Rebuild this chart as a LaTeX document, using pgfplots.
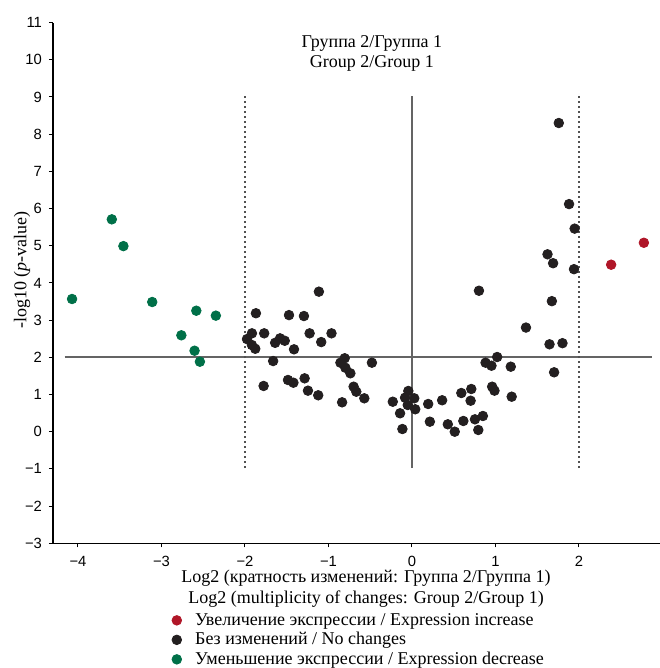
\documentclass[border=0pt]{standalone}
\usepackage{fontspec}
\setmainfont{Liberation Serif}
\newfontfamily\arial{Liberation Sans}
\usepackage{pgfplots}
\pgfplotsset{compat=1.18}
\definecolor{ptblack}{RGB}{35,31,32}
\definecolor{ptgreen}{RGB}{0,112,72}
\definecolor{ptred}{RGB}{176,22,40}
\definecolor{refline}{RGB}{100,100,100}
\newcommand{\txtfont}{\fontsize{9bp}{10bp}\selectfont}

\begin{document}
\begin{tikzpicture}
\begin{axis}[
  x=41.75bp, y=18.595bp,
  xmin=-4.3, xmax=2.97, ymin=-3, ymax=11,
  axis x line*=bottom, axis y line*=left,
  axis line style={black, line width=0.75bp, -},
  xtick={-4,...,2}, ytick={-3,...,11},
  xticklabels={−4,−3,−2,−1,0,1,2},
  yticklabels={−3,−2,−1,0,1,2,3,4,5,6,7,8,9,10,11},
  tick align=outside, major tick length=2bp,
  tick style={black, line width=0.5bp},
  ticklabel style={font=\arial\fontsize{7.4bp}{8bp}\selectfont},
  xticklabel style={yshift=-1bp},
  clip=false,
  legend style={at={(axis cs:-2.886,-4.80)}, anchor=north west,
    draw=none, fill=none, inner sep=0pt, row sep=0pt,
    font=\txtfont,
    nodes={inner sep=1bp, text height=6.2bp, text depth=1.55bp}},
  legend cell align=left,
  legend image code/.code={\draw[#1] plot coordinates {(0bp,0bp)}; \path (-2.5bp,0bp) (8bp,0bp);},
]
% reference lines
\addplot[refline, line width=1bp, forget plot] coordinates {(-4.16,2) (2.87,2)};
\addplot[refline, line width=1bp, forget plot] coordinates {(0,-0.98) (0,9.03)};
\addplot[refline!80!black, line width=0.9bp, dash pattern=on 1bp off 1.5bp, forget plot]
  coordinates {(-2,-0.98) (-2,9.03)};
\addplot[refline!80!black, line width=0.9bp, dash pattern=on 1bp off 1.5bp, forget plot]
  coordinates {(2,-0.98) (2,9.03)};

% expression increase
\addplot[only marks, mark=*, mark size=2.4bp, color=ptred]
  coordinates {(2.385,4.49) (2.777,5.08)};
\addlegendentry{Увеличение экспрессии / Expression increase}

% no changes
\addplot[only marks, mark=*, mark size=2.4bp, color=ptblack]
  coordinates {
  (-1.115,3.765) (-1.869,3.185) (-1.473,3.135) (-1.294,3.11) (-1.917,2.645)
  (-1.770,2.645) (-1.226,2.645) (-0.964,2.645) (-1.976,2.49) (-1.580,2.51)
  (-1.524,2.445) (-1.639,2.39) (-1.917,2.33) (-1.877,2.23) (-1.413,2.215)
  (-1.087,2.41) (-1.663,1.90) (-0.806,1.975) (-0.857,1.855) (-0.798,1.72)
  (-0.738,1.57) (-0.480,1.855) (-1.777,1.23) (-1.485,1.39) (-1.420,1.317)
  (-1.286,1.435) (-1.246,1.103) (-1.123,0.979) (-0.699,1.21) (-0.667,1.075)
  (-0.571,0.898) (-0.837,0.79) (-0.230,0.806) (-0.044,1.095) (-0.083,0.914)
  (0.027,0.898) (-0.051,0.718) (0.039,0.603) (-0.143,0.495) (-0.115,0.072)
  (0.194,0.745) (0.214,0.269) (1.758,8.30) (1.881,6.12) (1.948,5.46)
  (1.623,4.77) (1.690,4.53) (1.940,4.37) (0.802,3.79) (1.675,3.51)
  (1.365,2.80) (1.647,2.35) (1.802,2.38) (1.02,2.008) (0.881,1.855)
  (0.952,1.774) (1.183,1.748) (1.702,1.597) (0.96,1.21) (0.988,1.103)
  (0.710,1.148) (0.591,1.04) (1.194,0.941) (0.702,0.833) (0.361,0.845)
  (0.429,0.199) (0.512,0.0) (0.615,0.288) (0.754,0.333) (0.849,0.422)
  (0.794,0.046)};
\addlegendentry{Без изменений / No changes}

% expression decrease
\addplot[only marks, mark=*, mark size=2.4bp, color=ptgreen]
  coordinates {(-3.595,5.71) (-3.456,4.99) (-4.071,3.568) (-3.111,3.487)
  (-2.583,3.253) (-2.349,3.12) (-2.762,2.592) (-2.604,2.177) (-2.540,1.882)};
\addlegendentry{Уменьшение экспрессии / Expression decrease}

\node[align=center, font=\txtfont] at (axis cs:-0.48,10.18)
  {Группа 2/Группа 1\\Group 2/Group 1};
\node[rotate=90, font=\txtfont] at (axis cs:-4.671,4.35) {-log10 (\textit{p}-value)};
\node[align=center, font=\fontsize{9bp}{10.5bp}\selectfont] at (axis cs:-0.55,-4.21)
  {Log2 (кратность изменений: Группа 2/Группа 1)\\Log2 (multiplicity of changes: Group 2/Group 1)};

\coordinate (bbA) at (axis cs:-4.934,11.608);
\coordinate (bbB) at (axis cs:2.970,-6.354);
\end{axis}
\pgfresetboundingbox
\path[use as bounding box] (bbA) rectangle (bbB);
\end{tikzpicture}
\end{document}
